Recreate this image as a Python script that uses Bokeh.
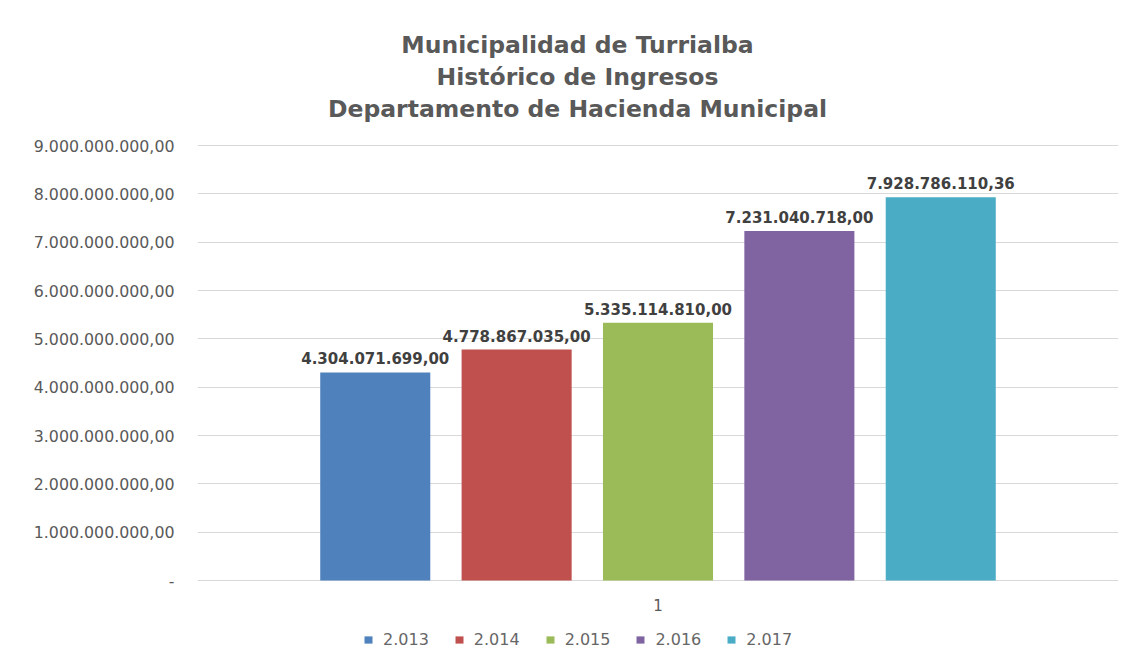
from bokeh.plotting import figure
from bokeh.models import (FactorRange, Range1d, FixedTicker, Label, Legend, LegendItem)
from bokeh.transform import dodge
from bokeh.embed import file_html
from bokeh.resources import INLINE

title_lines = ["Municipalidad de Turrialba", "Histórico de Ingresos", "Departamento de Hacienda Municipal"]
category = ["1"]
years = ["2.013", "2.014", "2.015", "2.016", "2.017"]
values = [4304071699.00, 4778867035.00, 5335114810.00, 7231040718.00, 7928786110.36]
value_labels = ["4.304.071.699,00", "4.778.867.035,00", "5.335.114.810,00", "7.231.040.718,00", "7.928.786.110,36"]
colors = ["#4f81bd", "#c0504d", "#9bbb59", "#8064a2", "#4bacc6"]
y_ticks = [0, 1e9, 2e9, 3e9, 4e9, 5e9, 6e9, 7e9, 8e9, 9e9]
y_tick_labels = ["-", "1.000.000.000,00", "2.000.000.000,00", "3.000.000.000,00", "4.000.000.000,00",
                 "5.000.000.000,00", "6.000.000.000,00", "7.000.000.000,00", "8.000.000.000,00",
                 "9.000.000.000,00"]

FONT = "DejaVu Sans"
W, H = 1132, 658
# the frame fills the full canvas height; value 0 sits at 580px, 9e9 at 145px
ZERO_PX, TOP_PX = 580, 145
per_px = max(y_ticks) / (ZERO_PX - TOP_PX)
Y_END = ZERO_PX * per_px
Y_START = -(H - ZERO_PX) * per_px

p = figure(width=W, height=H, x_range=FactorRange(*category), y_range=Range1d(Y_START, Y_END),
           output_backend="svg", toolbar_location=None,
           min_border_left=197, min_border_right=14, min_border_top=0, min_border_bottom=0)
p.outline_line_color = None
p.background_fill_color = "white"
p.border_fill_color = "white"

items = []
for i, (yr, v, lab, c) in enumerate(zip(years, values, value_labels, colors)):
    off = (i - 2) * 0.1535
    src = {"x": category, "top": [v], "lab": [lab]}
    r = p.vbar(x=dodge("x", off, range=p.x_range), top="top", bottom=0, width=0.1195, source=src,
               fill_color=c, line_color=None)
    p.text(x=dodge("x", off, range=p.x_range), y="top", text="lab", source=src,
           text_align="center", text_baseline="alphabetic", y_offset=-14,
           text_font={"value": FONT}, text_font_style="bold", text_font_size="15px",
           text_color="#404040")
    items.append(LegendItem(label=yr, renderers=[r]))

# category axis label drawn under the baseline
p.text(x=category, y=[0], text=category, text_align="center", text_baseline="middle", y_offset=24,
       text_font={"value": FONT}, text_font_size="15px", text_color="#595959")

# axes
p.xaxis.visible = False
p.yaxis.ticker = FixedTicker(ticks=y_ticks)
p.yaxis.major_label_overrides = {t: l for t, l in zip(y_ticks, y_tick_labels)}
p.yaxis.axis_line_color = None
p.yaxis.major_tick_line_color = None
p.yaxis.minor_tick_line_color = None
p.yaxis.major_label_standoff = 17
p.yaxis.major_label_text_font = FONT
p.yaxis.major_label_text_font_size = "15.8px"
p.yaxis.major_label_text_color = "#595959"

p.xgrid.grid_line_color = None
p.ygrid.grid_line_color = "#d9d9d9"
p.ygrid.grid_line_width = 1

# title lines (screen units measured from the frame's lower-left corner)
for k, t in enumerate(title_lines):
    p.add_layout(Label(x=380, y=H - 44 - k * 32, x_units="screen", y_units="screen", text=t,
                       text_align="center", text_baseline="middle",
                       text_font=FONT, text_font_style="bold", text_font_size="23.5px",
                       text_color="#595959"))

legend = Legend(items=items, orientation="horizontal", location=(166, 9),
                padding=0, margin=0, spacing=25, label_standoff=10,
                glyph_width=10, glyph_height=9, border_line_color=None,
                background_fill_alpha=0,
                label_text_font=FONT, label_text_font_size="16px", label_text_color="#666666")
p.add_layout(legend, "center")

open("out.html", "w").write(file_html(p, INLINE))
